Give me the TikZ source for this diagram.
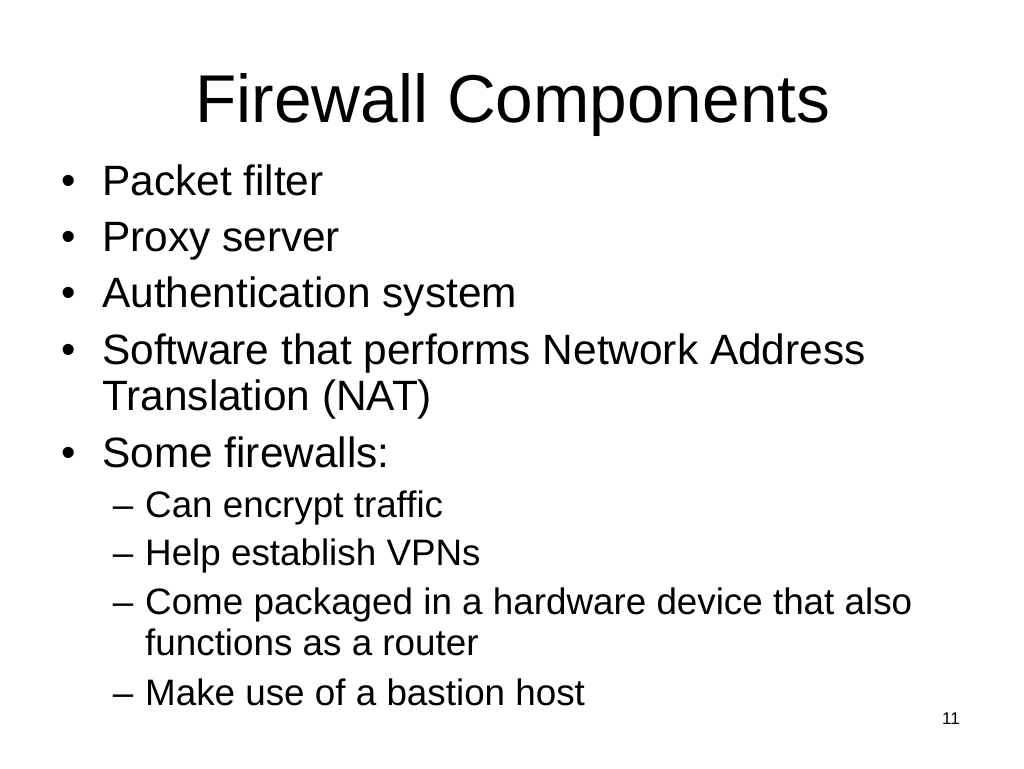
\documentclass[tikz,border=0pt]{standalone}
\usepackage{fontspec}
\setmainfont{Liberation Sans}
\usetikzlibrary{positioning}

\begin{document}
\begin{tikzpicture}[
    x=1pt, y=-1pt,
    title/.style={font=\fontsize{67.6}{81}\selectfont, inner sep=0pt, anchor=base},
    item/.style={font=\fontsize{42.4}{50}\selectfont, inner sep=0pt, anchor=base west},
    subitem/.style={font=\fontsize{36.8}{44}\selectfont, inner sep=0pt, anchor=base west},
    bulletdot/.style={font=\fontsize{41}{48}\selectfont, inner sep=0pt, anchor=base, yshift=1pt},
    bulletdash/.style={font=\fontsize{36.8}{44}\selectfont, inner sep=0pt, anchor=base},
    pagenum/.style={font=\fontsize{17}{20}\selectfont, inner sep=0pt, anchor=base east}
]

% Page
\fill[white] (0,0) rectangle (1024,768);
\useasboundingbox (0,0) rectangle (1024,768);

% Title
\node[title] (title) at (513,122) {Firewall Components};

% Main items
\node[bulletdot] (d1) at (69,195) {•};
\node[item] (packet) at (102,195) {Packet filter};
\node[bulletdot] (d2) at (69,251) {•};
\node[item] (proxy) at (102,251) {Proxy server};
\node[bulletdot] (d3) at (69,307) {•};
\node[item] (auth) at (102,307) {Authentication system};
\node[bulletdot] (d4) at (69,364) {•};
\node[item] (nat) at (102,364) {Software that performs Network Address};
\node[item] (nat2) at (102,410) {Translation (NAT)};
\node[bulletdot] (d5) at (69,467) {•};
\node[item] (some) at (102,467) {Some firewalls:};

% Sub items
\node[bulletdash] (s1) at (123,517) {–};
\node[subitem] (encrypt) at (145,517) {Can encrypt traffic};
\node[bulletdash] (s2) at (123,565) {–};
\node[subitem] (vpn) at (145,565) {Help establish VPNs};
\node[bulletdash] (s3) at (123,614) {–};
\node[subitem] (router) at (145,614) {Come packaged in a hardware device that also};
\node[subitem] (router2) at (145,655) {functions as a router};
\node[bulletdash] (s4) at (123,705) {–};
\node[subitem] (bastion) at (145,705) {Make use of a bastion host};

% Slide number
\node[pagenum] (num) at (960,724) {11};

\end{tikzpicture}
\end{document}
